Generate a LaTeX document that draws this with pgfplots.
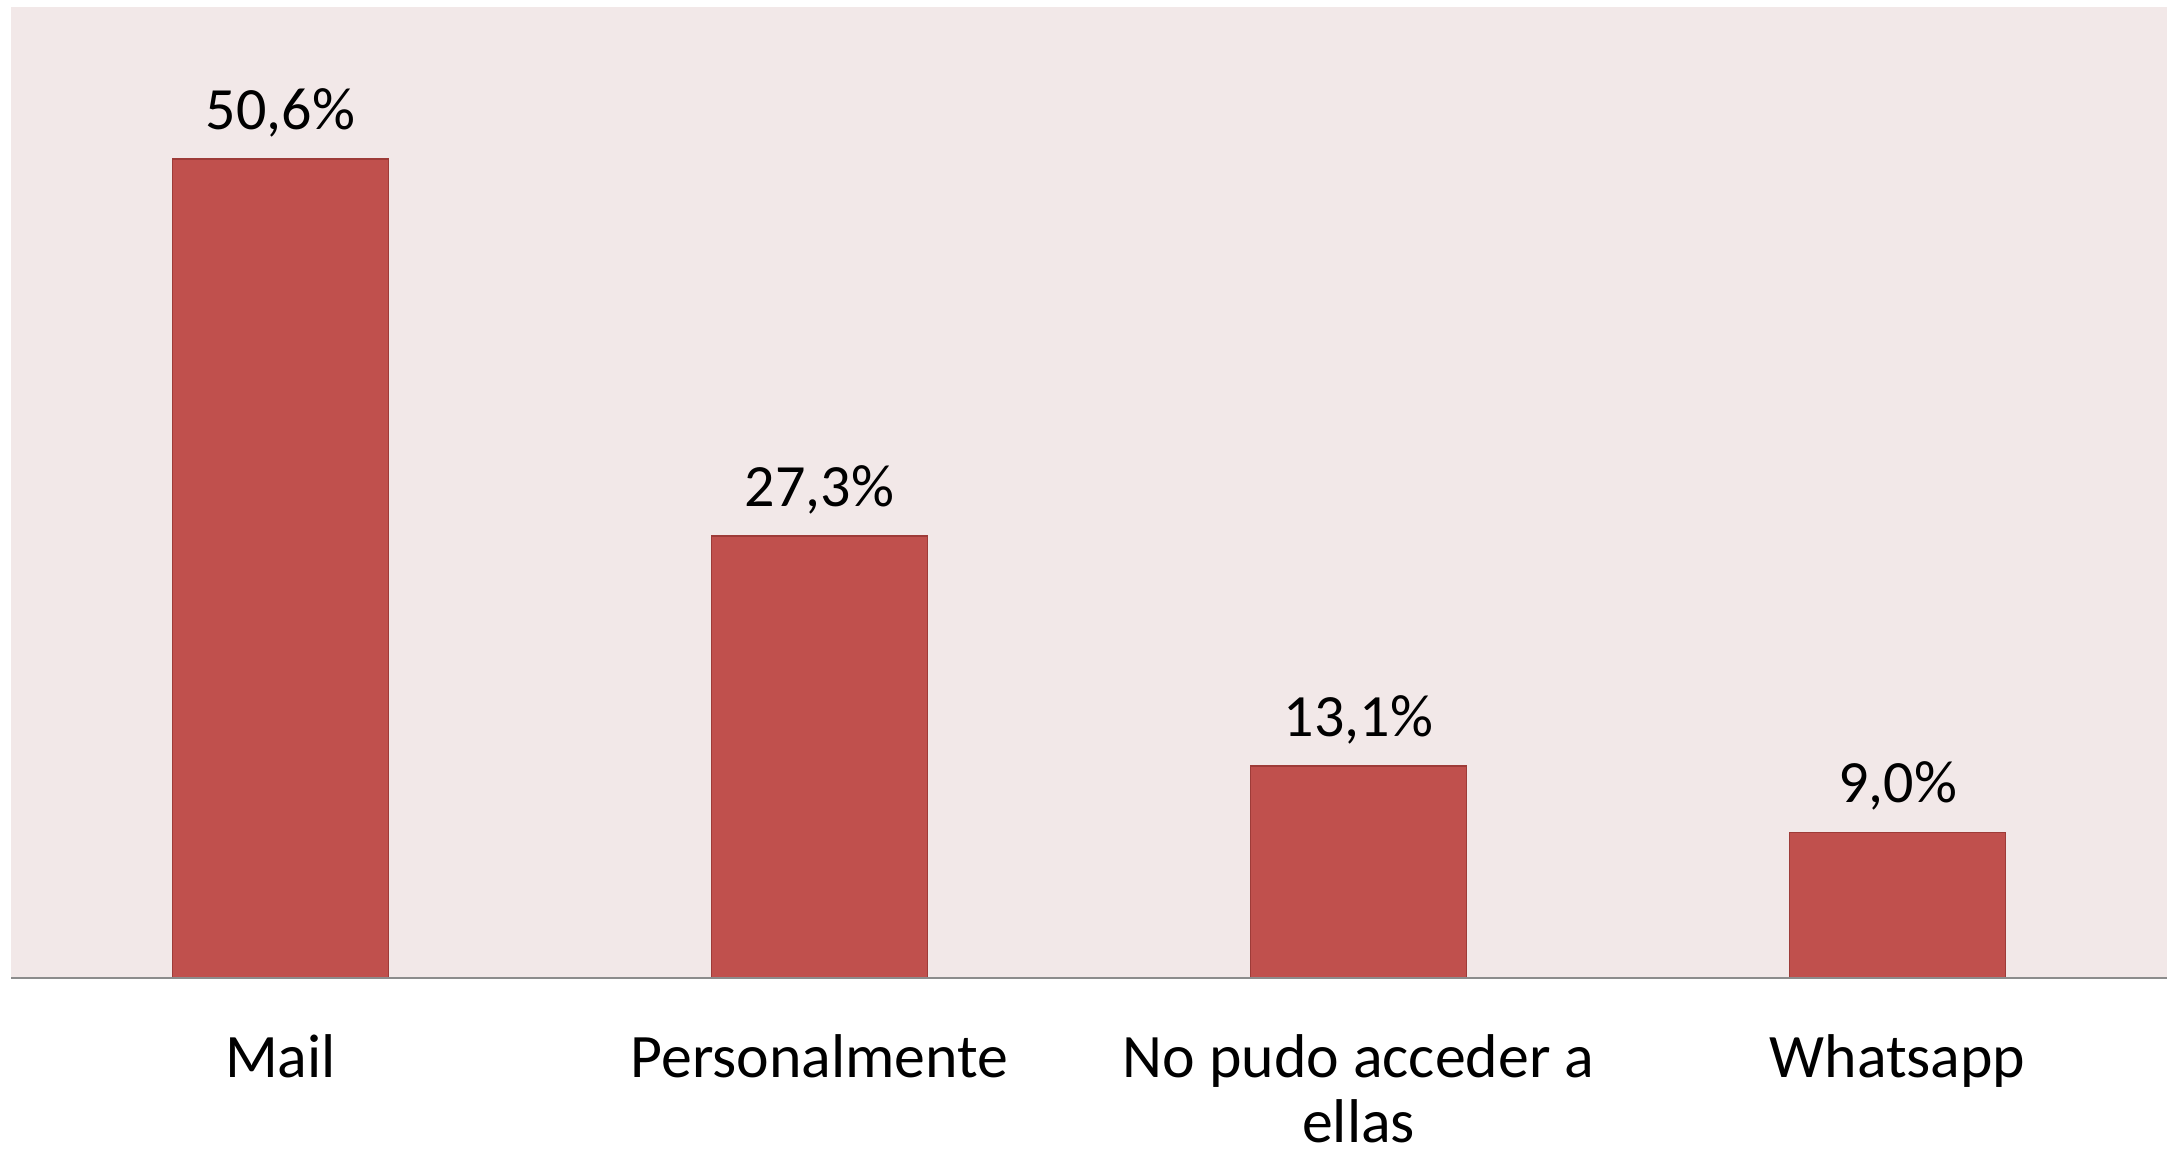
\documentclass[border=0pt]{standalone}
\usepackage{fontspec}
\setmainfont{Carlito}
\usepackage{pgfplots}
\pgfplotsset{compat=1.18}
\definecolor{barfill}{HTML}{C0504D}
\definecolor{baredge}{HTML}{9E3B38}
\definecolor{bg}{HTML}{F2E8E8}
\definecolor{axgray}{HTML}{8C8C8C}
\begin{document}
\begin{tikzpicture}
\path[use as bounding box] (-3.67pt,-59.67pt) rectangle (721.33pt,326pt);
\begin{axis}[
 at={(0,0)}, anchor=south west,
 scale only axis, width=718.67pt, height=323.67pt,
 xmin=-0.5, xmax=3.5, ymin=0, ymax=60,
 axis line style={draw=none},
 axis background/.style={fill=bg},
 xtick={0,1,2,3},
 xticklabels={Mail,Personalmente,{\begin{tabular}[t]{@{}c@{}}No pudo acceder a\\ellas\end{tabular}},Whatsapp},
 xticklabel style={font=\fontsize{20.6}{21.7}\selectfont, anchor=base, yshift=-33pt},
 major tick length=0pt,
 ytick=\empty,
 ybar, bar width=0.4,
 nodes near coords, point meta=explicit symbolic,
 every node near coord/.append style={font=\fontsize{20}{24}\selectfont, anchor=base, yshift=10pt},
 clip=false,
]
\addplot[fill=barfill, draw=baredge, line width=0.5pt] coordinates {(0,50.6) [50,6\%] (1,27.3) [27,3\%] (2,13.1) [13,1\%] (3,9.0) [9,0\%]};
\draw[axgray, line width=0.9pt] (rel axis cs:0,0) -- (rel axis cs:1,0);
\end{axis}
\end{tikzpicture}
\end{document}
